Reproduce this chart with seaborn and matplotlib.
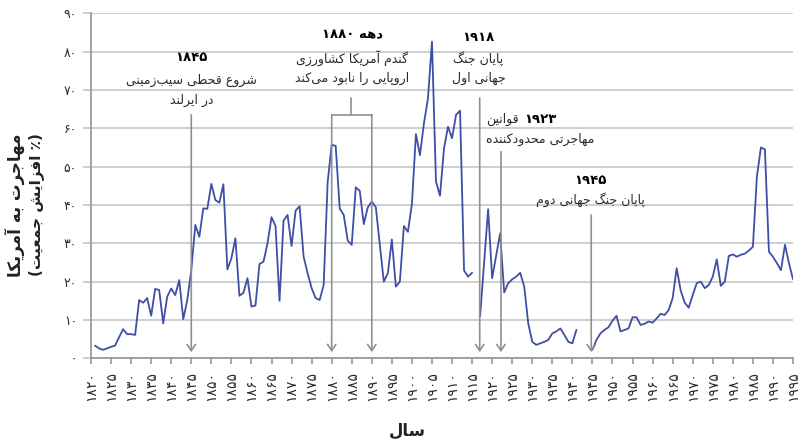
import numpy as np
import pandas as pd
import matplotlib
matplotlib.use("Agg")
import matplotlib.pyplot as plt
import seaborn as sns

# ---------------- data ----------------
years_a = list(range(1821, 1916))          # up to WWI
values_a = [3.3, 2.6, 2.2, 2.6, 3.0, 3.3, 5.5, 7.6, 6.3, 6.3,
            6.1, 15.2, 14.5, 15.7, 11.1, 18.1, 17.8, 9.1, 16.1, 18.2,
            16.5, 20.4, 10.2, 15.2, 23.0, 34.8, 31.7, 39.1, 39.0, 45.5,
            41.3, 40.6, 45.4, 23.2, 26.1, 31.3, 16.3, 17.1, 20.9, 13.5,
            13.8, 24.6, 25.2, 30.0, 36.8, 34.5, 15.0, 35.9, 37.4, 29.3,
            38.5, 39.7, 26.5, 22.2, 18.3, 15.7, 15.2, 19.1, 46.0, 55.7,
            55.4, 39.1, 37.4, 30.7, 29.6, 44.6, 43.7, 35.0, 39.4, 40.9,
            39.4, 29.6, 20.0, 22.2, 31.0, 18.7, 20.0, 34.5, 33.0, 40.2,
            58.5, 53.0, 61.3, 67.8, 82.6, 46.1, 42.4, 54.8, 60.4, 57.4,
            63.5, 64.6, 22.9, 21.3, 22.3]
years_b = [1917, 1919, 1920] + list(range(1922, 1942))   # between the wars
values_b = [11.0, 38.9, 20.9, 32.6, 17.2, 19.6, 20.6, 21.3, 22.3, 18.7,
            9.1, 4.3, 3.5, 3.9, 4.3, 4.8, 6.5, 7.0, 7.8, 6.1,
            4.3, 3.9, 7.4]
years_c = list(range(1945, 1996))          # after WWII
values_c = [2.2, 4.8, 6.5, 7.4, 8.1, 9.8, 11.1, 7.0, 7.4, 7.8,
            10.7, 10.7, 8.7, 9.0, 9.6, 9.3, 10.4, 11.6, 11.3, 12.6,
            15.7, 23.5, 17.7, 14.5, 13.2, 16.5, 19.6, 20.0, 18.3, 19.1,
            21.3, 25.8, 18.9, 20.0, 26.7, 27.1, 26.5, 27.0, 27.3, 28.1,
            29.1, 47.4, 55.0, 54.5, 27.8, 26.5, 24.8, 23.0, 29.6, 24.8,
            20.6]
x_ticks = list(range(1820, 1996, 5))
y_ticks = list(range(0, 91, 10))

# ---------------- Persian text helpers ----------------
FORMS = {
    'ا': (0xFE8D, 0xFE8E, None, None), 'آ': (0xFE81, 0xFE82, None, None),
    'ب': (0xFE8F, 0xFE90, 0xFE91, 0xFE92), 'پ': (0xFB56, 0xFB57, 0xFB58, 0xFB59),
    'ت': (0xFE95, 0xFE96, 0xFE97, 0xFE98), 'ث': (0xFE99, 0xFE9A, 0xFE9B, 0xFE9C),
    'ج': (0xFE9D, 0xFE9E, 0xFE9F, 0xFEA0), 'چ': (0xFB7A, 0xFB7B, 0xFB7C, 0xFB7D),
    'ح': (0xFEA1, 0xFEA2, 0xFEA3, 0xFEA4), 'خ': (0xFEA5, 0xFEA6, 0xFEA7, 0xFEA8),
    'د': (0xFEA9, 0xFEAA, None, None), 'ذ': (0xFEAB, 0xFEAC, None, None),
    'ر': (0xFEAD, 0xFEAE, None, None), 'ز': (0xFEAF, 0xFEB0, None, None),
    'ژ': (0xFB8A, 0xFB8B, None, None),
    'س': (0xFEB1, 0xFEB2, 0xFEB3, 0xFEB4), 'ش': (0xFEB5, 0xFEB6, 0xFEB7, 0xFEB8),
    'ص': (0xFEB9, 0xFEBA, 0xFEBB, 0xFEBC), 'ض': (0xFEBD, 0xFEBE, 0xFEBF, 0xFEC0),
    'ط': (0xFEC1, 0xFEC2, 0xFEC3, 0xFEC4), 'ظ': (0xFEC5, 0xFEC6, 0xFEC7, 0xFEC8),
    'ع': (0xFEC9, 0xFECA, 0xFECB, 0xFECC), 'غ': (0xFECD, 0xFECE, 0xFECF, 0xFED0),
    'ف': (0xFED1, 0xFED2, 0xFED3, 0xFED4), 'ق': (0xFED5, 0xFED6, 0xFED7, 0xFED8),
    'ک': (0xFB8E, 0xFB8F, 0xFB90, 0xFB91), 'گ': (0xFB92, 0xFB93, 0xFB94, 0xFB95),
    'ل': (0xFEDD, 0xFEDE, 0xFEDF, 0xFEE0), 'م': (0xFEE1, 0xFEE2, 0xFEE3, 0xFEE4),
    'ن': (0xFEE5, 0xFEE6, 0xFEE7, 0xFEE8), 'و': (0xFEED, 0xFEEE, None, None),
    'ه': (0xFEE9, 0xFEEA, 0xFEEB, 0xFEEC), 'ی': (0xFBFC, 0xFBFD, 0xFBFE, 0xFBFF),
}
DIGITS = '0123456789۰۱۲۳۴۵۶۷۸۹'


def dual(c):
    return c in FORMS and FORMS[c][2] is not None


def fa(text):
    """Shape Persian letters and return visual (left-to-right) order."""
    chars = list(text)
    out = []
    for i, c in enumerate(chars):
        if c == '\u200c':
            continue
        if c not in FORMS:
            out.append(c)
            continue
        prev = chars[i - 1] if i > 0 else ''
        nxt = chars[i + 1] if i + 1 < len(chars) else ''
        jp = dual(prev)
        jn = dual(c) and nxt in FORMS
        iso, fin, ini, med = FORMS[c]
        if jp and jn:
            g = med
        elif jp:
            g = fin
        elif jn:
            g = ini
        else:
            g = iso
        out.append(chr(g))
    s = ''.join(out)[::-1]
    res, run = [], []
    for ch in s:
        if ch in DIGITS:
            run.append(ch)
        else:
            if run:
                res.extend(run[::-1]); run = []
            res.append(ch)
    if run:
        res.extend(run[::-1])
    s = ''.join(res)
    return s.translate(str.maketrans('()', ')('))


def fanum(n):
    return str(n).translate(str.maketrans('0123456789', '۰۱۲۳۴۵۶۷۸۹'))


# ---------------- frame ----------------
df = pd.DataFrame({
    'year': years_a + years_b + years_c,
    'value': values_a + values_b + values_c,
    'segment': ['a'] * len(years_a) + ['b'] * len(years_b) + ['c'] * len(years_c),
})

sns.set_theme(style='white')
plt.rcParams['font.family'] = ['DejaVu Sans']

fig = plt.figure(figsize=(8.09, 4.48), dpi=100)
ax = fig.add_axes([91 / 809, 1 - 358.3 / 448, (793 - 91) / 809, (358.3 - 13.3) / 448])

grid_c = '#c6c6c6'
spine_c = '#9a9a9a'
arrow_c = '#8f8f8f'
line_c = '#3f4ea6'
text_c = '#2b2b2b'

sns.lineplot(data=df, x='year', y='value', units='segment', estimator=None,
             color=line_c, lw=1.3, ax=ax, legend=False)

ax.set_xlim(1820, 1995)
ax.set_ylim(0, 90)
ax.set_yticks(y_ticks)
ax.set_yticklabels([fanum(v) for v in y_ticks], fontsize=9, color=text_c)
ax.set_xticks(x_ticks)
ax.set_xticklabels([fanum(v) for v in x_ticks], rotation=90, fontsize=10, color=text_c)
ax.yaxis.grid(True, color=grid_c, lw=1.2)
ax.xaxis.grid(False)
ax.set_axisbelow(True)
for side in ('top', 'right'):
    ax.spines[side].set_visible(False)
for side in ('left', 'bottom'):
    ax.spines[side].set_color(spine_c)
    ax.spines[side].set_linewidth(1.3)
ax.tick_params(axis='y', length=6, width=1.2, color=grid_c, pad=4, left=True)
ax.tick_params(axis='x', length=4, width=1.2, color=spine_c, pad=5, bottom=True, direction='out')
ax.set_xlabel('')
ax.set_ylabel('')

# ---------------- annotations ----------------
aprops = dict(arrowstyle='->,head_length=0.45,head_width=0.3', color=arrow_c,
              lw=1.2, shrinkA=0, shrinkB=0, mutation_scale=10)
tip = 1.6


def arrow(x, ytop):
    ax.annotate('', xy=(x, tip), xytext=(x, ytop), arrowprops=aprops)


fs = 9
# 1845
ax.text(1845, 78.5, fanum(1845), ha='center', va='center', fontsize=fs + 0.5, fontweight='bold', color='black')
ax.text(1845, 72.6, fa('شروع قحطی سیب\u200cزمینی'), ha='center', va='center', fontsize=fs, color=text_c)
ax.text(1845, 67.4, fa('در ایرلند'), ha='center', va='center', fontsize=fs, color=text_c)
arrow(1845, 63.5)

# 1880s
ax.text(1885.1, 84.3, fa('دهه ۱۸۸۰'), ha='center', va='center', fontsize=fs + 0.5, fontweight='bold', color='black')
ax.text(1885.1, 78.3, fa('گندم آمریکا کشاورزی'), ha='center', va='center', fontsize=fs, color=text_c)
ax.text(1885.1, 73.1, fa('اروپایی را نابود می\u200cکند'), ha='center', va='center', fontsize=fs, color=text_c)
ax.plot([1880, 1890], [63.5, 63.5], color=arrow_c, lw=1.2)
ax.plot([1884.9, 1884.9], [63.5, 67.9], color=arrow_c, lw=1.2)
arrow(1880, 63.5)
arrow(1890, 63.5)

# 1918
ax.text(1916.6, 83.7, fanum(1918), ha='center', va='center', fontsize=fs + 0.5, fontweight='bold', color='black')
ax.text(1916.6, 78.3, fa('پایان جنگ'), ha='center', va='center', fontsize=fs, color=text_c)
ax.text(1916.6, 73.1, fa('جهانی اول'), ha='center', va='center', fontsize=fs, color=text_c)
arrow(1916.9, 67.9)

# 1923
t1 = ax.text(1918.5, 62.2, fa('قوانین'), ha='left', va='center', fontsize=fs, color=text_c)
ax.annotate(fanum(1923), xy=(1, 0.5), xycoords=t1, xytext=(4, 0), textcoords='offset points',
            ha='left', va='center', fontsize=fs + 0.5, fontweight='bold', color='black')
ax.text(1918.5, 57.0, fa('مهاجرتی محدودکننده'), ha='left', va='center', fontsize=fs, color=text_c)
arrow(1922.2, 53.9)

# 1945
ax.text(1944.6, 46.5, fanum(1945), ha='center', va='center', fontsize=fs + 0.5, fontweight='bold', color='black')
ax.text(1944.6, 41.3, fa('پایان جنگ جهانی دوم'), ha='center', va='center', fontsize=fs, color=text_c)
arrow(1944.7, 37.4)

# axis titles
fig.text(15 / 809, 1 - 205 / 448, fa('مهاجرت به آمریکا'), rotation=90, ha='center', va='center',
         fontsize=12, fontweight='bold', color='#222222')
fig.text(36.5 / 809, 1 - 205 / 448, fa('(٪ افزایش جمعیت)'), rotation=90, ha='center', va='center',
         fontsize=11, fontweight='bold', color='#222222')
fig.text(407 / 809, 1 - 431 / 448, fa('سال'), ha='center', va='center',
         fontsize=12, fontweight='bold', color='#222222')

fig.savefig('out.png', dpi=100)
